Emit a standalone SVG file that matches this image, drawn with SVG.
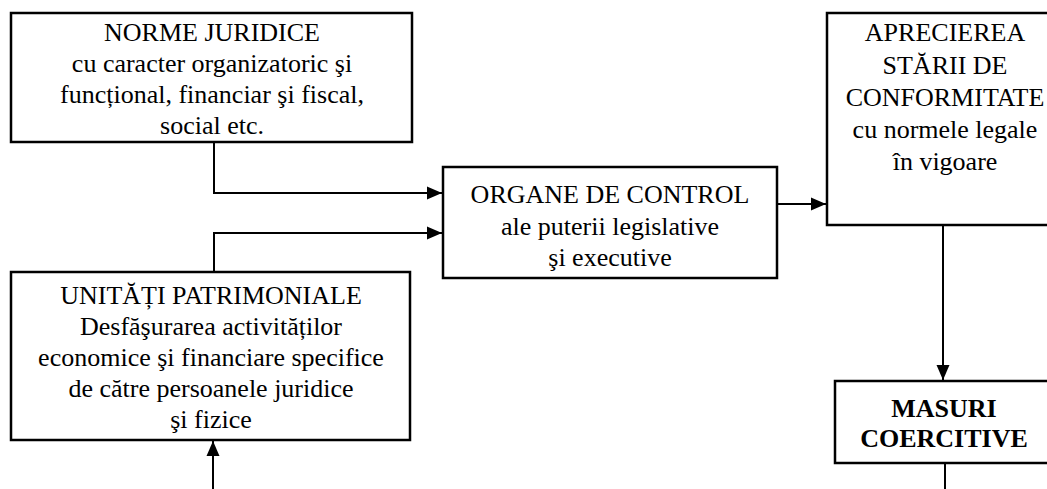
<svg xmlns="http://www.w3.org/2000/svg" width="1047" height="489" viewBox="0 0 1047 489">
<defs>
<style>
.box{fill:#fff;stroke:#000;stroke-width:2.5}
.t{font-family:"Liberation Serif","Times New Roman",serif;font-size:26px;fill:#000;text-anchor:middle}
.b{font-weight:bold}
.c{fill:none;stroke:#000;stroke-width:2}
</style>
<marker id="ah" markerUnits="userSpaceOnUse" markerWidth="16" markerHeight="14" refX="15" refY="7" orient="auto" viewBox="0 0 16 14">
<path d="M0,0.5 L15,7 L0,13.5 z" fill="#000"/>
</marker>
</defs>
<rect width="1047" height="489" fill="#fff"/>
<g id="connectors">
<path class="c" d="M214,142 V193 H442" marker-end="url(#ah)"/>
<path class="c" d="M214,272 V233 H442" marker-end="url(#ah)"/>
<path class="c" d="M777,204 H826" marker-end="url(#ah)"/>
<path class="c" d="M943,225 V380" marker-end="url(#ah)"/>
<path class="c" d="M945,463 V489"/>
<path class="c" d="M213,489 V441" marker-end="url(#ah)"/>
</g>
<g id="norme">
<rect class="box" x="11" y="13" width="401" height="129"/>
<text class="t" x="212" y="41">NORME JURIDICE</text>
<text class="t" x="212" y="72">cu caracter organizatoric şi</text>
<text class="t" x="212" y="103">funcțional, financiar şi fiscal,</text>
<text class="t" x="212" y="134">social etc.</text>
</g>
<g id="unitati">
<rect class="box" x="11" y="272" width="399" height="168"/>
<text class="t" x="211" y="304">UNITĂȚI PATRIMONIALE</text>
<text class="t" x="211" y="335">Desfăşurarea activităților</text>
<text class="t" x="211" y="366">economice şi financiare specifice</text>
<text class="t" x="211" y="397">de către persoanele juridice</text>
<text class="t" x="211" y="428">şi fizice</text>
</g>
<g id="organe">
<rect class="box" x="443" y="167" width="334" height="111"/>
<text class="t" x="610" y="203">ORGANE DE CONTROL</text>
<text class="t" x="610" y="235">ale puterii legislative</text>
<text class="t" x="610" y="266">şi executive</text>
</g>
<g id="apreciere">
<rect class="box" x="827" y="13" width="236" height="212"/>
<text class="t" x="945" y="41">APRECIEREA</text>
<text class="t" x="945" y="74">STĂRII DE</text>
<text class="t" x="945" y="106">CONFORMITATE</text>
<text class="t" x="945" y="138">cu normele legale</text>
<text class="t" x="945" y="170">în vigoare</text>
</g>
<g id="masuri">
<rect class="box" x="835" y="381" width="219" height="82"/>
<text class="t b" x="944" y="417">MASURI</text>
<text class="t b" x="944" y="447">COERCITIVE</text>
</g>
</svg>
